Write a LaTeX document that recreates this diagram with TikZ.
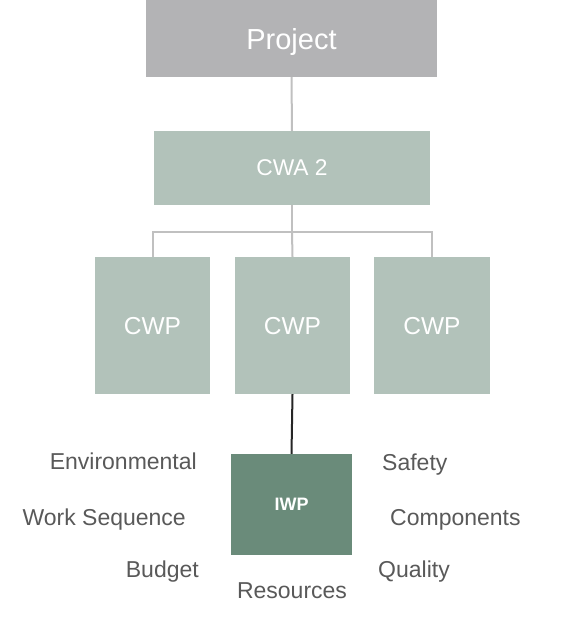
\documentclass[tikz,border=0pt]{standalone}
\usepackage{fontspec}
\setmainfont{Liberation Sans}
\definecolor{projgray}{HTML}{B3B3B5}
\definecolor{cwfill}{HTML}{B2C2BA}
\definecolor{iwpfill}{HTML}{6A8B7A}
\definecolor{labelgray}{HTML}{595959}
\definecolor{linegray}{HTML}{C0C0C0}
\begin{document}
\begin{tikzpicture}[x=1pt,y=-1pt,
  box/.style={draw=none,inner sep=0pt,text=white,align=center,text depth=0pt},
  lbl/.style={inner sep=0pt,text=labelgray,font=\fontsize{23}{27}\selectfont},
  conn/.style={draw=linegray,line width=2pt},
  dconn/.style={draw=black!85,line width=2pt}]
\useasboundingbox (0,0) rectangle (561,619);
% boxes
\node[box,fill=projgray,minimum width=291pt,minimum height=77pt,font=\fontsize{29}{33}\selectfont] (proj) at (291.5,38.5) {Project};
\node[box,fill=cwfill,minimum width=276pt,minimum height=74pt,font=\fontsize{22.8}{26}\selectfont] (cwa) at (292,168) {CWA 2};
\node[box,fill=cwfill,minimum width=115pt,minimum height=137pt,font=\fontsize{24.5}{28}\selectfont] (cwp1) at (152.5,325.5) {CWP};
\node[box,fill=cwfill,minimum width=115pt,minimum height=137pt,font=\fontsize{24.5}{28}\selectfont] (cwp2) at (292.5,325.5) {CWP};
\node[box,fill=cwfill,minimum width=116pt,minimum height=137pt,font=\fontsize{24.5}{28}\selectfont] (cwp3) at (432,325.5) {CWP};
\node[box,fill=iwpfill,minimum width=121pt,minimum height=101pt,font=\bfseries\fontsize{18}{22}\selectfont] (iwp) at (291.5,504.5) {IWP};
% connectors
\coordinate (bus) at (292,232);
\draw[conn] (proj.south) -- (cwa.north);
\draw[conn] (cwa.south) -- (bus);
\draw[conn] (cwp1.north) |- (bus) -| (cwp3.north);
\draw[conn] (bus) -- (cwp2.north);
\draw[dconn] (cwp2.south) -- (iwp.north);
% labels
\node[lbl,anchor=base east] (env) at (197,469) {Environmental};
\node[lbl,anchor=base east] (ws) at (186,525) {Work Sequence};
\node[lbl,anchor=base east] (bud) at (199,577) {Budget};
\node[lbl,anchor=base] (res) at (292,598) {Resources};
\node[lbl,anchor=base west] (saf) at (382,470) {Safety};
\node[lbl,anchor=base west] (comp) at (390,525) {Components};
\node[lbl,anchor=base west] (qual) at (378,577) {Quality};
\end{tikzpicture}
\end{document}
